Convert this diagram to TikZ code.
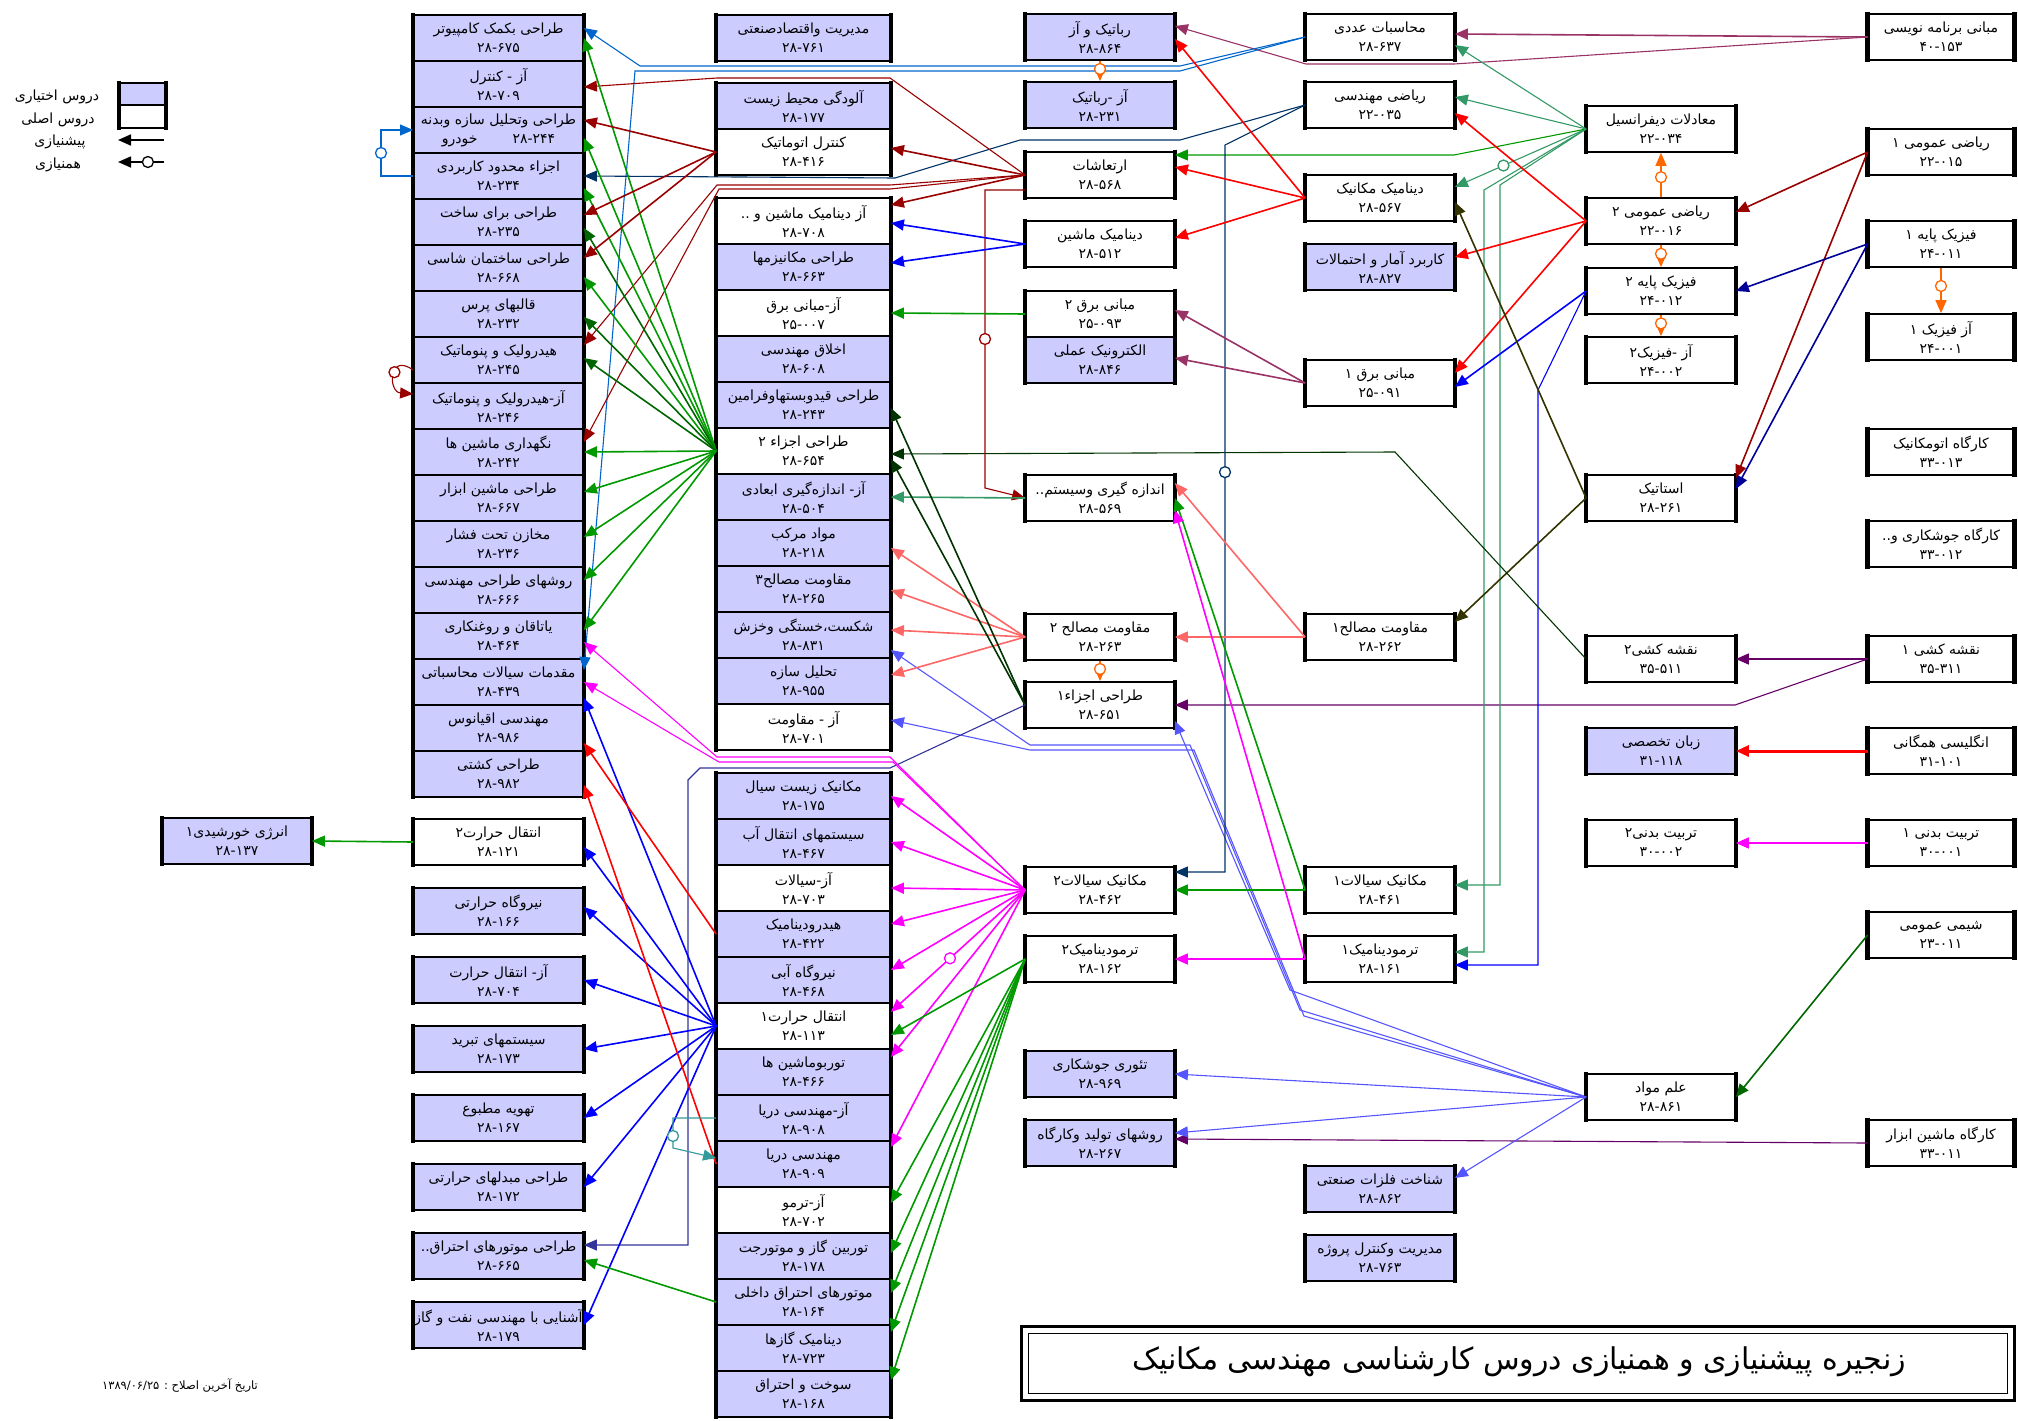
\documentclass[tikz,border=0pt]{standalone}
\usepackage{fontspec}
\usetikzlibrary{arrows.meta}
\newfontfamily\fafont[Script=Arabic]{DejaVu Sans}
\TeXXeTstate=1
\newcommand{\boxfont}{\fafont\fontsize{14}{19}\selectfont}
\newcommand{\lesson}[2]{\beginR #1\endR\\#2}

\definecolor{lav}{HTML}{CCCCFF}
\definecolor{legblue}{HTML}{9999FF}
\definecolor{grn}{HTML}{009900}
\definecolor{dkgrn}{HTML}{006600}
\definecolor{vdkgrn}{HTML}{003300}
\definecolor{dkred}{HTML}{990000}
\definecolor{rd}{HTML}{FF0000}
\definecolor{steel}{HTML}{0066CC}
\definecolor{dkteal}{HTML}{003366}
\definecolor{slate}{HTML}{5555FF}
\definecolor{slateb}{HTML}{333399}
\definecolor{navyb}{HTML}{000099}
\definecolor{blu}{HTML}{0000FF}
\definecolor{mag}{HTML}{FF00FF}
\definecolor{salm}{HTML}{FF6666}
\definecolor{plum}{HTML}{993366}
\definecolor{purp}{HTML}{660066}
\definecolor{seag}{HTML}{339966}
\definecolor{olv}{HTML}{333300}
\definecolor{orng}{HTML}{FF6600}
\definecolor{tealc}{HTML}{339999}

\tikzset{
  box/.style={draw, line width=1.8pt, minimum width=#1, minimum height=46pt,
    inner sep=0pt, align=center, font=\boxfont,
    append after command={\pgfextra{\let\thisbox\tikzlastnode}
      ([yshift=1.5pt]\thisbox.north west) edge[line width=4.5pt, -] ([yshift=-1.5pt]\thisbox.south west)
      ([yshift=1.5pt]\thisbox.north east) edge[line width=4.5pt, -] ([yshift=-1.5pt]\thisbox.south east)}},
  box/.default=148pt,
  elec/.style={box=#1, fill=lav},
  elec/.default=148pt,
  core/.style={box=#1, fill=white},
  core/.default=148pt,
  prq/.style={draw=#1, line width=1.6pt, -{Triangle[length=13pt,width=11pt]}},
  prqt/.style={prq=#1, line width=1.1pt},
  cocirc/.style={circle, draw=#1, fill=white, line width=1.3pt, minimum size=11pt, inner sep=0pt},
  legtext/.style={font=\fafont\fontsize{14}{16}\selectfont, inner sep=0pt}
}

\begin{document}
\begin{tikzpicture}[x=1pt, y=1pt]
\useasboundingbox (0,0) rectangle (2018,-1421);

\node [elec=45pt, minimum height=22pt] (legopt) at (142.5,-94) {};
\node [core=45pt, minimum height=23pt] (legcore) at (142.5,-116.5) {};
\node [legtext] (legoptlbl) at (57,-97) {\beginR دروس اختیاری\endR};
\node [legtext] (legcorelbl) at (58,-120) {\beginR دروس اصلی\endR};
\node [legtext] (legprqlbl) at (60,-142) {پیشنیازی};
\node [legtext] (legcolbl) at (58,-165) {همنیازی};
\coordinate (legpa) at (164,-140);
\coordinate (legpb) at (118,-140);
\coordinate (legca) at (164,-162);
\coordinate (legcb) at (118,-162);

\node [elec=169pt] (cad) at (498.5,-38) {\lesson{طراحی بکمک کامپیوتر}{۲۸-۶۷۵}};
\node [elec=169pt] (labctl) at (498.5,-84) {\lesson{آز - کنترل}{۲۸-۷۰۹}};
\node [elec=169pt] (body) at (498.5,-130) {\lesson{طراحی وتحلیل سازه وبدنه}{خودرو\hspace{2.5em}۲۸-۲۴۴}};
\node [elec=169pt] (fem) at (498.5,-176) {\lesson{اجزاء محدود کاربردی}{۲۸-۲۳۴}};
\node [elec=169pt] (dfm) at (498.5,-222) {\lesson{طراحی برای ساخت}{۲۸-۲۳۵}};
\node [elec=169pt] (chassis) at (498.5,-268) {\lesson{طراحی ساختمان شاسی}{۲۸-۶۶۸}};
\node [elec=169pt] (press) at (498.5,-314) {\lesson{قالبهای پرس}{۲۸-۲۳۲}};
\node [elec=169pt] (hyd) at (498.5,-360) {\lesson{هیدرولیک و پنوماتیک}{۲۸-۲۴۵}};
\node [elec=169pt] (labhyd) at (498.5,-406) {\lesson{آز-هیدرولیک و پنوماتیک}{۲۸-۲۴۶}};
\node [elec=169pt] (maint) at (498.5,-452) {\lesson{نگهداری ماشین ها}{۲۸-۲۴۲}};
\node [elec=169pt] (mtool) at (498.5,-498) {\lesson{طراحی ماشین ابزار}{۲۸-۶۶۷}};
\node [elec=169pt] (vessel) at (498.5,-544) {\lesson{مخازن تحت فشار}{۲۸-۲۳۶}};
\node [elec=169pt] (desmeth) at (498.5,-590) {\lesson{روشهای طراحی مهندسی}{۲۸-۶۶۶}};
\node [elec=169pt] (bearing) at (498.5,-636) {\lesson{یاتاقان و روغنکاری}{۲۸-۴۶۴}};
\node [elec=169pt] (cfd) at (498.5,-682) {\lesson{مقدمات سیالات محاسباتی}{۲۸-۴۳۹}};
\node [elec=169pt] (ocean) at (498.5,-728) {\lesson{مهندسی اقیانوس}{۲۸-۹۸۶}};
\node [elec=169pt] (ship) at (498.5,-774) {\lesson{طراحی کشتی}{۲۸-۹۸۲}};
\node [core=169pt] (ht2) at (498.5,-842) {\lesson{انتقال حرارت۲}{۲۸-۱۲۱}};
\node [elec=169pt] (plant) at (498.5,-911) {\lesson{نیروگاه حرارتی}{۲۸-۱۶۶}};
\node [elec=169pt] (labht) at (498.5,-980) {\lesson{آز- انتقال حرارت}{۲۸-۷۰۴}};
\node [elec=169pt] (refrig) at (498.5,-1049) {\lesson{سیستمهای تبرید}{۲۸-۱۷۳}};
\node [elec=169pt] (hvac) at (498.5,-1118) {\lesson{تهویه مطبوع}{۲۸-۱۶۷}};
\node [elec=169pt] (hex) at (498.5,-1187) {\lesson{طراحی مبدلهای حرارتی}{۲۸-۱۷۲}};
\node [elec=169pt] (icdes) at (498.5,-1256) {\lesson{طراحی موتورهای احتراق..}{۲۸-۶۶۵}};
\node [elec=169pt] (oil) at (498.5,-1325) {\lesson{آشنایی با مهندسی نفت و گاز}{۲۸-۱۷۹}};
\node [elec] (solar) at (237,-841) {\lesson{انرژی خورشیدی۱}{۲۸-۱۳۷}};

\node [elec=173pt] (mgmt) at (803.5,-38) {\lesson{مدیریت واقتصادصنعتی}{۲۸-۷۶۱}};
\node [elec=173pt] (pollution) at (803.5,-106) {\lesson{آلودگی محیط زیست}{۲۸-۱۷۷}};
\node [core=173pt] (autoctl) at (803.5,-152) {\lesson{کنترل اتوماتیک}{۲۸-۴۱۶}};
\node [core=173pt] (labdyn) at (803.5,-221) {\lesson{آز دینامیک ماشین و ..}{۲۸-۷۰۸}};
\node [elec=173pt] (mech) at (803.5,-267) {\lesson{طراحی مکانیزمها}{۲۸-۶۶۳}};
\node [core=173pt] (labelec) at (803.5,-313) {\lesson{آز-مبانی برق}{۲۵-۰۰۷}};
\node [elec=173pt] (ethics) at (803.5,-359) {\lesson{اخلاق مهندسی}{۲۸-۶۰۸}};
\node [elec=173pt] (fixture) at (803.5,-405) {\lesson{طراحی قیدوبستهاوفرامین}{۲۸-۲۴۳}};
\node [core=173pt] (md2) at (803.5,-451) {\lesson{طراحی اجزاء ۲}{۲۸-۶۵۴}};
\node [elec=173pt] (labmeas) at (803.5,-497) {\lesson{آز- اندازه^^^^200cگیری ابعادی}{۲۸-۵۰۴}};
\node [elec=173pt] (composite) at (803.5,-543) {\lesson{مواد مرکب}{۲۸-۲۱۸}};
\node [elec=173pt] (som3) at (803.5,-589) {\lesson{مقاومت مصالح۳}{۲۸-۲۶۵}};
\node [elec=173pt] (fracture) at (803.5,-635) {\lesson{شکست،خستگی وخزش}{۲۸-۸۳۱}};
\node [elec=173pt] (struct) at (803.5,-681) {\lesson{تحلیل سازه}{۲۸-۹۵۵}};
\node [core=173pt] (labsom) at (803.5,-727) {\lesson{آز - مقاومت}{۲۸-۷۰۱}};
\node [elec=173pt] (biofl) at (803.5,-796) {\lesson{مکانیک زیست سیال}{۲۸-۱۷۵}};
\node [elec=173pt] (water) at (803.5,-842) {\lesson{سیستمهای انتقال آب}{۲۸-۴۶۷}};
\node [core=173pt] (labfl) at (803.5,-888) {\lesson{آز-سیالات}{۲۸-۷۰۳}};
\node [elec=173pt] (hydrodyn) at (803.5,-934) {\lesson{هیدرودینامیک}{۲۸-۴۲۲}};
\node [elec=173pt] (hydro) at (803.5,-980) {\lesson{نیروگاه آبی}{۲۸-۴۶۸}};
\node [core=173pt] (ht1) at (803.5,-1026) {\lesson{انتقال حرارت۱}{۲۸-۱۱۳}};
\node [elec=173pt] (turbo) at (803.5,-1072) {\lesson{توربوماشین ها}{۲۸-۴۶۶}};
\node [elec=173pt] (labmar) at (803.5,-1118) {\lesson{آز-مهندسی دریا}{۲۸-۹۰۸}};
\node [elec=173pt] (marine) at (803.5,-1164) {\lesson{مهندسی دریا}{۲۸-۹۰۹}};
\node [core=173pt] (labthermo) at (803.5,-1210) {\lesson{آز-ترمو}{۲۸-۷۰۲}};
\node [elec=173pt] (gasturb) at (803.5,-1256) {\lesson{توربین گاز و موتورجت}{۲۸-۱۷۸}};
\node [elec=173pt] (icengine) at (803.5,-1302) {\lesson{موتورهای احتراق داخلی}{۲۸-۱۶۴}};
\node [elec=173pt] (gasdyn) at (803.5,-1348) {\lesson{دینامیک گازها}{۲۸-۷۲۳}};
\node [elec=173pt] (combust) at (803.5,-1394) {\lesson{سوخت و احتراق}{۲۸-۱۶۸}};

\node [elec] (robot) at (1100,-37) {\lesson{رباتیک و آز}{۲۸-۸۶۴}};
\node [elec] (labrobot) at (1100,-105) {\lesson{آز -رباتیک}{۲۸-۲۳۱}};
\node [core] (vib) at (1100,-175) {\lesson{ارتعاشات}{۲۸-۵۶۸}};
\node [core] (machdyn) at (1100,-244) {\lesson{دینامیک ماشین}{۲۸-۵۱۲}};
\node [core] (elec2) at (1100,-314) {\lesson{مبانی برق ۲}{۲۵-۰۹۳}};
\node [elec] (electronics) at (1100,-360) {\lesson{الکترونیک عملی}{۲۸-۸۴۶}};
\node [core] (meas) at (1100,-498) {\lesson{اندازه گیری وسیستم..}{۲۸-۵۶۹}};
\node [core] (som2) at (1100,-637) {\lesson{مقاومت مصالح ۲}{۲۸-۲۶۳}};
\node [core] (md1) at (1100,-705) {\lesson{طراحی اجزاء۱}{۲۸-۶۵۱}};
\node [core] (fl2) at (1100,-890) {\lesson{مکانیک سیالات۲}{۲۸-۴۶۲}};
\node [core] (th2) at (1100,-959) {\lesson{ترمودینامیک۲}{۲۸-۱۶۲}};
\node [elec] (weld) at (1100,-1074) {\lesson{تئوری جوشکاری}{۲۸-۹۶۹}};
\node [elec] (manuf) at (1100,-1143) {\lesson{روشهای تولید وکارگاه}{۲۸-۲۶۷}};

\node [core] (numer) at (1380,-37) {\lesson{محاسبات عددی}{۲۸-۶۳۷}};
\node [core] (engmath) at (1380,-105) {\lesson{ریاضی مهندسی}{۲۲-۰۳۵}};
\node [core] (dynamics) at (1380,-198) {\lesson{دینامیک مکانیک}{۲۸-۵۶۷}};
\node [elec] (stats) at (1380,-267) {\lesson{کاربرد آمار و احتمالات}{۲۸-۸۲۷}};
\node [core] (elec1) at (1380,-383) {\lesson{مبانی برق ۱}{۲۵-۰۹۱}};
\node [core] (som1) at (1380,-637) {\lesson{مقاومت مصالح۱}{۲۸-۲۶۲}};
\node [core] (fl1) at (1380,-890) {\lesson{مکانیک سیالات۱}{۲۸-۴۶۱}};
\node [core] (th1) at (1380,-959) {\lesson{ترمودینامیک۱}{۲۸-۱۶۱}};
\node [elec] (metals) at (1380,-1189) {\lesson{شناخت فلزات صنعتی}{۲۸-۸۶۲}};
\node [elec] (project) at (1380,-1258) {\lesson{مدیریت وکنترل پروژه}{۲۸-۷۶۳}};

\node [core] (diffeq) at (1661,-129) {\lesson{معادلات دیفرانسیل}{۲۲-۰۳۴}};
\node [core] (math2) at (1661,-221) {\lesson{ریاضی عمومی ۲}{۲۲-۰۱۶}};
\node [core] (phys2) at (1661,-291) {\lesson{فیزیک پایه ۲}{۲۴-۰۱۲}};
\node [core] (labphys2) at (1661,-360) {\lesson{آز -فیزیک۲}{۲۴-۰۰۲}};
\node [core] (statics) at (1661,-498) {\lesson{استاتیک}{۲۸-۲۶۱}};
\node [core] (draw2) at (1661,-659) {\lesson{نقشه کشی۲}{۳۵-۵۱۱}};
\node [elec] (esp) at (1661,-751) {\lesson{زبان تخصصی}{۳۱-۱۱۸}};
\node [core] (pe2) at (1661,-843) {\lesson{تربیت بدنی۲}{۳۰-۰۰۲}};
\node [core] (matsci) at (1661,-1097) {\lesson{علم مواد}{۲۸-۸۶۱}};

\node [core=145pt] (prog) at (1941,-37) {\lesson{مبانی برنامه نویسی}{۴۰-۱۵۳}};
\node [core=145pt] (math1) at (1941,-152) {\lesson{ریاضی عمومی ۱}{۲۲-۰۱۵}};
\node [core=145pt] (phys1) at (1941,-244) {\lesson{فیزیک پایه ۱}{۲۴-۰۱۱}};
\node [core=145pt] (labphys1) at (1941,-337) {\lesson{آز فیزیک ۱}{۲۴-۰۰۱}};
\node [core=145pt] (autoshop) at (1941,-452) {\lesson{کارگاه اتومکانیک}{۳۳-۰۱۳}};
\node [core=145pt] (weldshop) at (1941,-544) {\lesson{کارگاه جوشکاری و..}{۳۳-۰۱۲}};
\node [core=145pt] (draw1) at (1941,-659) {\lesson{نقشه کشی ۱}{۳۵-۳۱۱}};
\node [core=145pt] (english) at (1941,-751) {\lesson{انگلیسی همگانی}{۳۱-۱۰۱}};
\node [core=145pt] (pe1) at (1941,-843) {\lesson{تربیت بدنی ۱}{۳۰-۰۰۱}};
\node [core=145pt] (chem) at (1941,-935) {\lesson{شیمی عمومی}{۲۳-۰۱۱}};
\node [core=145pt] (mtshop) at (1941,-1143) {\lesson{کارگاه ماشین ابزار}{۳۳-۰۱۱}};

\node [draw, line width=3pt, minimum width=993pt, minimum height=74pt] (titlebox) at (1517.5,-1363) {};
\node [draw, line width=1pt, minimum width=979pt, minimum height=60pt] (titleinner) at (titlebox) {};
\node [font=\fafont\fontsize{30}{34}\selectfont] (title) at (1519,-1362) {\beginR زنجیره پیشنیازی و همنیازی دروس کارشناسی مهندسی مکانیک\endR};
\node [font=\fafont\fontsize{11.5}{14}\selectfont] (date) at (180,-1385) {\beginR تاریخ آخرین اصلاح : \beginL۱۳۸۹/۰۶/۲۵\endL\endR};

\draw [prq=black] (legpa) -- (legpb);
\draw [prq=black] (legca) -- (legcb) node [cocirc=black, pos=0.35] {};

\draw [prq=plum] (prog.west) -- ([yshift=3pt]numer.east);
\draw [prqt=plum] (prog.west) -- (1454,-64) -- (1306,-64) -- ([yshift=11pt]robot.east);
\draw [prq=dkred] (math1.west) -- ([yshift=9pt]math2.east);
\draw [prq=dkred] (math1.west) -- ([yshift=20pt]statics.east);
\draw [prq=navyb] (phys1.west) -- (phys2.east);
\draw [prq=navyb] (phys1.west) -- ([yshift=9pt]statics.east);
\draw [prq=orng] (phys1.south) -- (labphys1.north) node [cocirc=orng, pos=0.4] {};
\draw [prq=purp] (draw1.west) -- (draw2.east);
\draw [prqt=purp] (draw1.west) -- (1735,-705) -- (md1.east);
\draw [prq=rd, line width=3pt] (english.west) -- (esp.east);
\draw [prq=mag] (pe1.west) -- (pe2.east);
\draw [prq=dkgrn] (chem.west) -- (matsci.east);
\draw [prqt=purp] (mtshop.west) -- ([yshift=4pt]manuf.east);

\draw [prq=orng] (math2.north) -- (diffeq.south) node [cocirc=orng, pos=0.45] {};
\draw [prq=orng] (math2.south) -- (phys2.north) node [cocirc=orng, pos=0.4] {};
\draw [prq=orng] (phys2.south) -- (labphys2.north) node [cocirc=orng, pos=0.4] {};
\draw [prqt=seag] (diffeq.west) -- ([yshift=-8pt]numer.east);
\draw [prqt=seag] (diffeq.west) -- ([yshift=8pt]engmath.east);
\draw [prqt=seag] (diffeq.west) -- ([yshift=11pt]dynamics.east) node [cocirc=seag, pos=0.63] {};
\draw [prqt=grn] (diffeq.west) -- (1454,-155) -- ([yshift=20pt]vib.east);
\draw [prqt=seag] (diffeq.west) -- (1500,-185) -- (1500,-885) -- ([yshift=5pt]fl1.east);
\draw [prqt=seag] (diffeq.west) -- (1484,-190) -- (1484,-952) -- ([yshift=7pt]th1.east);
\draw [prq=rd] (math2.west) -- ([yshift=-8pt]engmath.east);
\draw [prq=rd] (math2.west) -- ([yshift=10pt]stats.east);
\draw [prq=rd] (math2.west) -- ([yshift=10pt]elec1.east);
\draw [prq=blu] (phys2.west) -- ([yshift=-4pt]elec1.east);
\draw [prqt=blu] (phys2.west) -- (1538,-390) -- (1538,-965) -- ([yshift=-6pt]th1.east);
\draw [prq=olv] (statics.west) -- ([yshift=-4pt]dynamics.east);
\draw [prq=olv] (statics.west) -- ([yshift=15pt]som1.east);
\draw [prqt=vdkgrn] (draw2.west) -- (1395,-452) -- ([yshift=-3pt]md2.east);
\draw [prqt=slate] (matsci.west) -- (weld.east);
\draw [prqt=slate] (matsci.west) -- ([yshift=10pt]manuf.east);
\draw [prqt=slate] (matsci.west) -- ([yshift=11pt]metals.east);
\draw [prqt=slate] (matsci.west) -- (1290,-990) -- ([yshift=-16pt]md1.east);
\draw [prqt=slate] (matsci.west) -- (1300,-1010) -- (1190,-745) -- (1030,-745) -- ([yshift=-15pt]fracture.east);
\draw [prqt=slate] (matsci.west) -- (1304,-1016) -- (1194,-750) -- (1030,-750) -- ([yshift=7pt]labsom.east);

\draw [prqt=steel] (numer.west) -- (1180,-66) -- (640,-66) -- ([yshift=10pt]cad.east);
\draw [prqt=steel] (numer.west) -- (1180,-71) -- (635,-71) -- ([yshift=12pt]cfd.east);
\draw [prqt=dkteal] (engmath.west) -- (1180,-140) -- (1020,-140) -- (895,-178) -- (fem.east);
\draw [prqt=dkteal] (engmath.west) -- (1225,-145) -- (1225,-872) node [cocirc=dkteal, pos=0.45] {} -- ([yshift=18pt]fl2.east);
\draw [prq=rd] (dynamics.west) -- ([yshift=-2pt]robot.east);
\draw [prq=rd] (dynamics.west) -- ([yshift=8pt]vib.east);
\draw [prq=rd] (dynamics.west) -- ([yshift=6pt]machdyn.east);
\draw [prq=plum] (elec1.west) -- ([yshift=4pt]elec2.east);
\draw [prq=plum] (elec1.west) -- ([yshift=2pt]electronics.east);
\draw [prq=salm] (som1.west) -- (som2.east);
\draw [prq=salm] (som1.west) -- ([yshift=15pt]meas.east);
\draw [prq=grn] (fl1.west) -- (fl2.east);
\draw [prq=grn] (fl1.west) -- (meas.east);
\draw [prq=mag] (th1.west) -- (th2.east);
\draw [prq=mag] (th1.west) -- ([yshift=-12pt]meas.east);

\draw [prq=orng] (robot.south) -- (labrobot.north) node [cocirc=orng, pos=0.4] {};
\draw [prq=orng] (som2.south) -- (md1.north) node [cocirc=orng, pos=0.4] {};
\draw [prq=dkred] (vib.west) -- ([yshift=4pt]autoctl.east);
\draw [prq=dkred] (vib.west) -- ([yshift=16pt]labdyn.east);
\draw [prqt=dkred] ([yshift=-15pt]vib.west) -- (985,-190) -- (985,-488) node [cocirc=dkred, pos=0.5] {} -- (meas.west);
\draw [prqt=dkred] (vib.west) -- (890,-78) -- (717,-78) -- ([yshift=-3pt]labctl.east);
\draw [prqt=dkred] (vib.west) -- (890,-185) -- (717,-185) -- ([yshift=15pt]hyd.east);
\draw [prqt=dkred] (vib.west) -- (890,-189) -- (719,-189) -- ([yshift=10pt]maint.east);
\draw [prq=blu] (machdyn.west) -- ([yshift=-2pt]labdyn.east);
\draw [prq=blu] (machdyn.west) -- ([yshift=4pt]mech.east);
\draw [prq=grn] (elec2.west) -- (labelec.east);
\draw [prq=seag] (meas.west) -- (labmeas.east);
\draw [prq=salm] (som2.west) -- ([yshift=-5pt]composite.east);
\draw [prq=salm] (som2.west) -- ([yshift=-1pt]som3.east);
\draw [prq=salm] (som2.west) -- ([yshift=5pt]fracture.east);
\draw [prq=salm] (som2.west) -- ([yshift=6pt]struct.east);
\draw [prq=vdkgrn] (md1.west) -- ([yshift=-3pt]fixture.east);
\draw [prq=vdkgrn] (md1.west) -- ([yshift=-8pt]md2.east);
\draw [prqt=slateb] (md1.west) -- (890,-768) -- (700,-768) -- (688,-780) -- (688,-1245) -- ([yshift=11pt]icdes.east);
\draw [prq=mag] (fl2.west) -- (biofl.east);
\draw [prq=mag] (fl2.west) -- (water.east);
\draw [prq=mag] (fl2.west) -- (labfl.east);
\draw [prq=mag] (fl2.west) -- ([yshift=10pt]hydrodyn.east);
\draw [prq=mag] (fl2.west) -- ([yshift=10pt]hydro.east);
\draw [prq=mag] (fl2.west) -- ([yshift=14pt]ht1.east) node [cocirc=mag, pos=0.56] {};
\draw [prq=mag] (fl2.west) -- ([yshift=15pt]turbo.east);
\draw [prq=mag] (fl2.west) -- ([yshift=17pt]marine.east);
\draw [prqt=mag] (fl2.west) -- (890,-757) -- (717,-757) -- ([yshift=-6pt]bearing.east);
\draw [prqt=mag] (fl2.west) -- (893,-762) -- (719,-762) -- (cfd.east);
\draw [prq=grn] (th2.west) -- ([yshift=-9pt]ht1.east);
\draw [prq=grn] (th2.west) -- ([yshift=7pt]labthermo.east);
\draw [prq=grn] (th2.west) -- ([yshift=3pt]gasturb.east);
\draw [prq=grn] (th2.west) -- ([yshift=9pt]icengine.east);
\draw [prq=grn] (th2.west) -- ([yshift=16pt]gasdyn.east);
\draw [prq=grn] (th2.west) -- ([yshift=14pt]combust.east);

\draw [prq=grn] (md2.west) -- (cad.east);
\draw [prq=grn] (md2.west) -- ([yshift=-8pt]body.east);
\draw [prq=grn] (md2.west) -- ([yshift=-12pt]fem.east);
\draw [prq=dkgrn] (md2.west) -- ([yshift=-6pt]dfm.east);
\draw [prq=grn] (md2.west) -- ([yshift=-9pt]chassis.east);
\draw [prq=dkgrn] (md2.west) -- ([yshift=-3pt]press.east);
\draw [prq=dkgrn] (md2.west) -- ([yshift=2pt]hyd.east);
\draw [prq=grn] (md2.west) -- (maint.east);
\draw [prq=grn] (md2.west) -- ([yshift=6pt]mtool.east);
\draw [prq=grn] (md2.west) -- ([yshift=7pt]vessel.east);
\draw [prq=grn] (md2.west) -- ([yshift=10pt]desmeth.east);
\draw [prq=grn] (md2.west) -- ([yshift=6pt]bearing.east);
\draw [prq=dkred] (autoctl.west) -- ([yshift=10pt]body.east);
\draw [prq=dkred] (autoctl.west) -- ([yshift=7pt]dfm.east);
\draw [prq=dkred] (autoctl.west) -- ([yshift=10pt]chassis.east);
\draw [prq=blu] (ht1.west) -- ([yshift=-16pt]cfd.east);
\draw [prq=blu] (ht1.west) -- ([yshift=-5pt]ht2.east);
\draw [prq=blu] (ht1.west) -- ([yshift=4pt]plant.east);
\draw [prq=blu] (ht1.west) -- (labht.east);
\draw [prq=blu] (ht1.west) -- (refrig.east);
\draw [prq=blu] (ht1.west) -- (hvac.east);
\draw [prq=blu] (ht1.west) -- (hex.east);
\draw [prq=blu] (ht1.west) -- (oil.east);
\draw [prq=rd] (hydrodyn.west) -- ([yshift=-15pt]ocean.east);
\draw [prq=rd] (marine.west) -- ([yshift=-11pt]ship.east);
\draw [prqt=tealc] (labmar.west) -- (673,-1118) -- (673,-1148) node [cocirc=tealc, pos=0.6] {} -- ([yshift=6pt]marine.west);
\draw [prq=grn] (icengine.west) -- ([yshift=-4pt]icdes.east);

\draw [prqt=steel] (fem.west) -- (381,-176) -- (381,-130) node [cocirc=steel, midway] {} -- (body.west);
\draw [prqt=dkred] ([yshift=-10pt]hyd.west) .. controls (388,-352) and (388,-392) .. ([yshift=12pt]labhyd.west) node [cocirc=dkred, pos=0.45] {};
\draw [prq=grn] (ht2.west) -- (solar.east);
\end{tikzpicture}
\end{document}
